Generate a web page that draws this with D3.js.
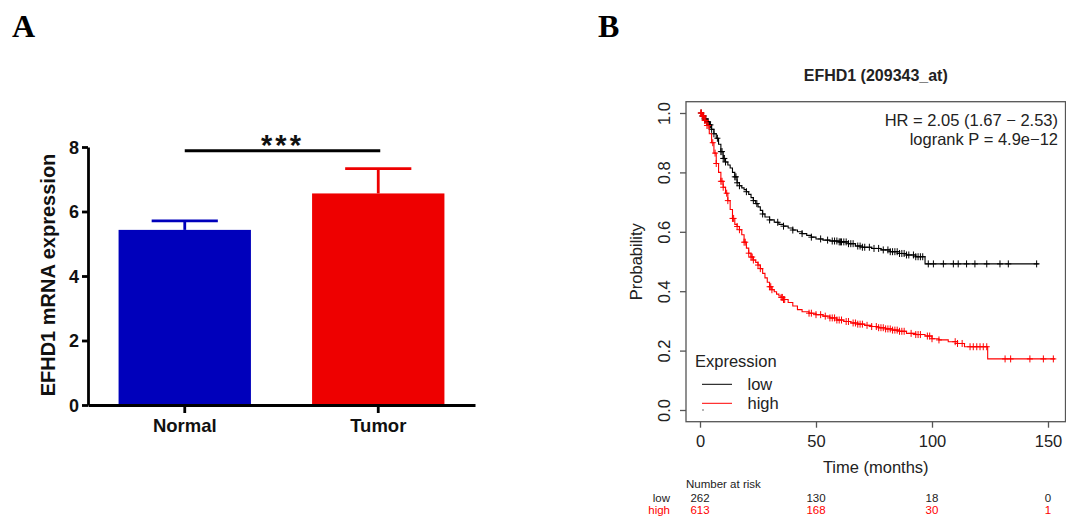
<!DOCTYPE html>
<html><head><meta charset="utf-8">
<script src="https://cdn.jsdelivr.net/npm/d3@7"></script>
<style>body{margin:0;background:#fff}svg{display:block}</style>
</head><body><svg id="chart" width="1066" height="516"></svg>
<script>
// ---------- Panel A data ----------
const categories = ["Normal", "Tumor"];
const meanExpression = [5.43, 6.56];
const errorUpper = [0.28, 0.77];
const barColors = ["#0000bb", "#ee0000"];
const yTicksA = [0, 2, 4, 6, 8];
const significanceLabel = "***";
const significanceLevel = 7.88;

// ---------- Panel B data ----------
const kmTitle = "EFHD1 (209343_at)";
const hrLabel = "HR = 2.05 (1.67 \u2212 2.53)";
const pLabel = "logrank P = 4.9e\u221212";
const groups = ["low", "high"];
const groupColors = ["#000000", "#ff0000"];
const lowTimes = [0,1,2,3,4,5,6,7,8,9,10,11,12,13,14,15,16,17,18,19,20,21,22,23,24,25,26,27,28,30,32,34,36,38,40,42,44,46,48,50,53,56,60,64,67,70,74,78,82,86,89,93,97,146];
const lowSurv = [1.0,0.99,0.98,0.97,0.96,0.945,0.93,0.915,0.895,0.87,0.847,0.835,0.825,0.815,0.80,0.785,0.765,0.755,0.748,0.742,0.735,0.726,0.715,0.705,0.695,0.684,0.672,0.66,0.65,0.64,0.632,0.625,0.619,0.613,0.606,0.60,0.594,0.588,0.582,0.576,0.572,0.569,0.566,0.56,0.552,0.548,0.544,0.539,0.533,0.527,0.522,0.516,0.492,0.492];
const highTimes = [0,1,2,3,4,5,6,7,8,9,10,11,12,13,14,15,16,17,18,19,20,21,22,23,24,25,26,27,28,29,30,31,32,33,34,35,36,38,40,42,44,47,50,53,56,59,62,65,68,71,74,77,80,83,86,89,93,97,100,103,107,111,114,124,153];
const highSurv = [1.0,0.99,0.975,0.958,0.93,0.9,0.865,0.83,0.80,0.77,0.75,0.73,0.705,0.675,0.645,0.625,0.618,0.607,0.59,0.565,0.545,0.528,0.515,0.505,0.497,0.488,0.476,0.46,0.445,0.43,0.415,0.405,0.398,0.39,0.384,0.379,0.372,0.362,0.35,0.338,0.331,0.326,0.321,0.316,0.31,0.303,0.298,0.293,0.289,0.285,0.281,0.277,0.273,0.269,0.265,0.258,0.254,0.249,0.24,0.236,0.23,0.224,0.213,0.172,0.172];
const lowCensor = [0.5,1,1.5,2,2.5,3,3.5,4,4.5,5,6,7.5,9,9.5,10,10.5,11,15,15.5,16,17,20,23,24.5,27,30,33.5,36,40,44,48,52,55,57,58,59,60,60.5,61,62,63,64,65,66,68,69,70,71,73,75,77,79,81,82,83,84,85,86,87,88,89,90,92,93,94,95,96,98.4,100.6,104.9,109.2,111.3,114.9,118.5,123.6,129.3,132.9,145.1];
const highCensor = [0.3,0.6,1,1.3,1.6,2,2.5,3,3.5,5.5,6.5,7,9,9.5,10,11.5,12,14,14.5,16,17,19,19.5,21,22,22.5,23,25,26,30,30.5,31,35,35.5,36,36.5,47,48,50,52,54,56,57,58,59,60,61,63,64,66,67,68,69,70,72,74,76,77,78,79,80,81,82,83,84,85,86,87,88,91,93,94,95,98,99,100,103,110,111,113,116.4,117.8,119.3,120.7,122.1,123.6,131.5,133.9,142.2,148,152.3];
const xTicksB = [0, 50, 100, 150];
const yTicksB = [0, 0.2, 0.4, 0.6, 0.8, 1.0];
const riskLow = [262, 130, 18, 0];
const riskHigh = [613, 168, 30, 1];

const svg = d3.select("#chart");
svg.append("rect").attr("width", 1066).attr("height", 516).attr("fill", "#fff");
const sans = "'Liberation Sans', Arial, Helvetica, sans-serif";
const serif = "'Liberation Serif', 'Times New Roman', serif";

// Panel letters
svg.append("text").attr("x", 12).attr("y", 37).attr("font-family", serif).attr("font-weight", "bold")
  .attr("font-size", 32).text("A");
svg.append("text").attr("x", 598).attr("y", 37).attr("font-family", serif).attr("font-weight", "bold")
  .attr("font-size", 32).text("B");

// ================= Panel A =================
const yA = d3.scaleLinear().domain([0, 8]).range([405, 147]);
const xA = d3.scaleBand().domain(categories).range([88, 475]).paddingInner(0.316).paddingOuter(0.158);
const gA = svg.append("g");
const bw = xA.bandwidth();

// bars
gA.selectAll("rect.bar").data(categories).join("rect")
  .attr("x", d => xA(d)).attr("y", (d, i) => yA(meanExpression[i]))
  .attr("width", bw).attr("height", (d, i) => yA(0) - yA(meanExpression[i]))
  .attr("fill", (d, i) => barColors[i]);
// error bars
categories.forEach((c, i) => {
  const cx = xA(c) + bw / 2;
  gA.append("line").attr("x1", cx).attr("x2", cx)
    .attr("y1", yA(meanExpression[i])).attr("y2", yA(meanExpression[i] + errorUpper[i]))
    .attr("stroke", barColors[i]).attr("stroke-width", 2.8);
  gA.append("line").attr("x1", cx - bw / 4).attr("x2", cx + bw / 4)
    .attr("y1", yA(meanExpression[i] + errorUpper[i])).attr("y2", yA(meanExpression[i] + errorUpper[i]))
    .attr("stroke", barColors[i]).attr("stroke-width", 2.8);
});

// axes
const axA = gA.append("g").attr("transform", "translate(88,0)")
  .call(d3.axisLeft(yA).tickValues(yTicksA).tickSize(6).tickSizeOuter(0).tickPadding(3));
const axAx = gA.append("g").attr("transform", "translate(0,405)")
  .call(d3.axisBottom(xA).tickSize(8).tickSizeOuter(0));
[axA, axAx].forEach(a => {
  a.selectAll("path.domain").attr("stroke", "#000").attr("stroke-width", 2.8);
  a.selectAll(".tick line").attr("stroke", "#000").attr("stroke-width", 2.8);
  a.selectAll("text").attr("font-family", sans).attr("font-weight", "bold").attr("fill", "#111");
});
axA.selectAll("text").attr("font-size", 18).attr("dy", "0.36em");
axAx.selectAll("text").attr("font-size", 18.5).attr("y", 27).attr("dy", 0);

// y label
gA.append("text").attr("transform", "translate(55,275) rotate(-90)")
  .attr("text-anchor", "middle").attr("font-family", sans).attr("font-weight", "bold")
  .attr("font-size", 20).attr("fill", "#111").text("EFHD1 mRNA expression");

// significance
const c0 = xA(categories[0]) + bw / 2, c1 = xA(categories[1]) + bw / 2;
gA.append("line").attr("x1", c0).attr("x2", c1 + 2)
  .attr("y1", yA(significanceLevel)).attr("y2", yA(significanceLevel))
  .attr("stroke", "#000").attr("stroke-width", 3);
gA.append("text").attr("x", (c0 + c1) / 2 + 1).attr("y", yA(significanceLevel) + 4)
  .attr("text-anchor", "middle").attr("font-family", sans).attr("font-weight", "bold")
  .attr("font-size", 29).attr("letter-spacing", 3).attr("fill", "#111").text(significanceLabel);

// ================= Panel B =================
const xB = d3.scaleLinear().domain([0, 150]).range([700, 1048]);
const yB = d3.scaleLinear().domain([0, 1]).range([410, 113]);
const gB = svg.append("g");
const boxL = 686, boxR = 1065.5, boxT = 101.7, boxB = 421.7;

gB.append("text").attr("x", (boxL + boxR) / 2).attr("y", 81).attr("text-anchor", "middle")
  .attr("font-family", sans).attr("font-weight", "bold").attr("font-size", 16).attr("fill", "#222").text(kmTitle);

gB.append("rect").attr("x", boxL).attr("y", boxT).attr("width", boxR - boxL).attr("height", boxB - boxT)
  .attr("fill", "none").attr("stroke", "#555").attr("stroke-width", 1.3);

// x axis
const axBx = gB.append("g").attr("transform", `translate(0,${boxB})`)
  .call(d3.axisBottom(xB).tickValues(xTicksB).tickSize(6).tickFormat(d3.format("d")));
axBx.select("path.domain").remove();
axBx.selectAll(".tick line").attr("stroke", "#555").attr("stroke-width", 1.3);
axBx.selectAll("text").attr("font-family", sans).attr("font-size", 16.5).attr("fill", "#222")
  .attr("y", 25).attr("dy", 0);
// y axis
const axBy = gB.append("g").attr("transform", `translate(${boxL},0)`)
  .call(d3.axisLeft(yB).tickValues(yTicksB).tickSize(6).tickFormat(d3.format(".1f")));
axBy.select("path.domain").remove();
axBy.selectAll(".tick line").attr("stroke", "#555").attr("stroke-width", 1.3);
axBy.selectAll("text").attr("font-family", sans).attr("font-size", 16.5).attr("fill", "#222")
  .attr("x", 0).attr("dy", 0).attr("text-anchor", "middle")
  .attr("transform", "translate(-16,0) rotate(-90)");

gB.append("text").attr("x", (boxL + boxR) / 2).attr("y", 473).attr("text-anchor", "middle")
  .attr("font-family", sans).attr("font-size", 16.5).attr("fill", "#222").text("Time (months)");
gB.append("text").attr("transform", `translate(642,${(boxT + boxB) / 2}) rotate(-90)`)
  .attr("text-anchor", "middle").attr("font-family", sans).attr("font-size", 16.5).attr("fill", "#222").text("Probability");

// curves
const curveData = [
  { times: lowTimes, surv: lowSurv, censor: lowCensor, color: groupColors[0] },
  { times: highTimes, surv: highSurv, censor: highCensor, color: groupColors[1] }
];
const line = d3.line().x(d => xB(d[0])).y(d => yB(d[1])).curve(d3.curveStepAfter);
curveData.forEach(cd => {
  const pts = cd.times.map((t, i) => [t, cd.surv[i]]);
  gB.append("path").attr("d", line(pts)).attr("fill", "none").attr("stroke", cd.color).attr("stroke-width", 1.1);
  const survAt = t => cd.surv[Math.max(0, d3.bisectRight(cd.times, t) - 1)];
  const cg = gB.append("g").attr("stroke", cd.color).attr("stroke-width", 1);
  cd.censor.forEach(t => {
    const x = xB(t), y = yB(survAt(t));
    cg.append("line").attr("x1", x - 3).attr("x2", x + 3).attr("y1", y).attr("y2", y);
    cg.append("line").attr("x1", x).attr("x2", x).attr("y1", y - 3.5).attr("y2", y + 3.5);
  });
});

// HR text
gB.append("text").attr("x", 1058).attr("y", 126).attr("text-anchor", "end")
  .attr("font-family", sans).attr("font-size", 16.5).attr("fill", "#222").text(hrLabel);
gB.append("text").attr("x", 1058).attr("y", 145).attr("text-anchor", "end")
  .attr("font-family", sans).attr("font-size", 16.5).attr("fill", "#222").text(pLabel);

// legend
gB.append("text").attr("x", 695).attr("y", 366.5).attr("font-family", sans).attr("font-size", 16.5)
  .attr("fill", "#222").text("Expression");
groups.forEach((g, i) => {
  const ly = 384.3 + i * 19;
  gB.append("line").attr("x1", 702).attr("x2", 732).attr("y1", ly).attr("y2", ly)
    .attr("stroke", groupColors[i]).attr("stroke-width", 1);
  gB.append("text").attr("x", 747.5).attr("y", ly + 6).attr("font-family", sans).attr("font-size", 16.5)
    .attr("fill", "#222").text(g);
});
gB.append("circle").attr("cx", 703).attr("cy", 410).attr("r", 0.7).attr("fill", "#333");

// number at risk
gB.append("text").attr("x", boxL).attr("y", 488).attr("font-family", sans).attr("font-size", 11.5)
  .attr("fill", "#222").text("Number at risk");
[riskLow, riskHigh].forEach((arr, gi) => {
  const ry = 501.5 + gi * 12.5;
  const col = gi === 0 ? "#222" : groupColors[gi];
  gB.append("text").attr("x", 670).attr("y", ry).attr("text-anchor", "end").attr("font-family", sans)
    .attr("font-size", 11.5).attr("fill", col).text(groups[gi]);
  arr.forEach((n, j) => {
    gB.append("text").attr("x", xB(xTicksB[j])).attr("y", ry).attr("text-anchor", "middle")
      .attr("font-family", sans).attr("font-size", 11.5).attr("fill", col).text(n);
  });
});
</script></body></html>
